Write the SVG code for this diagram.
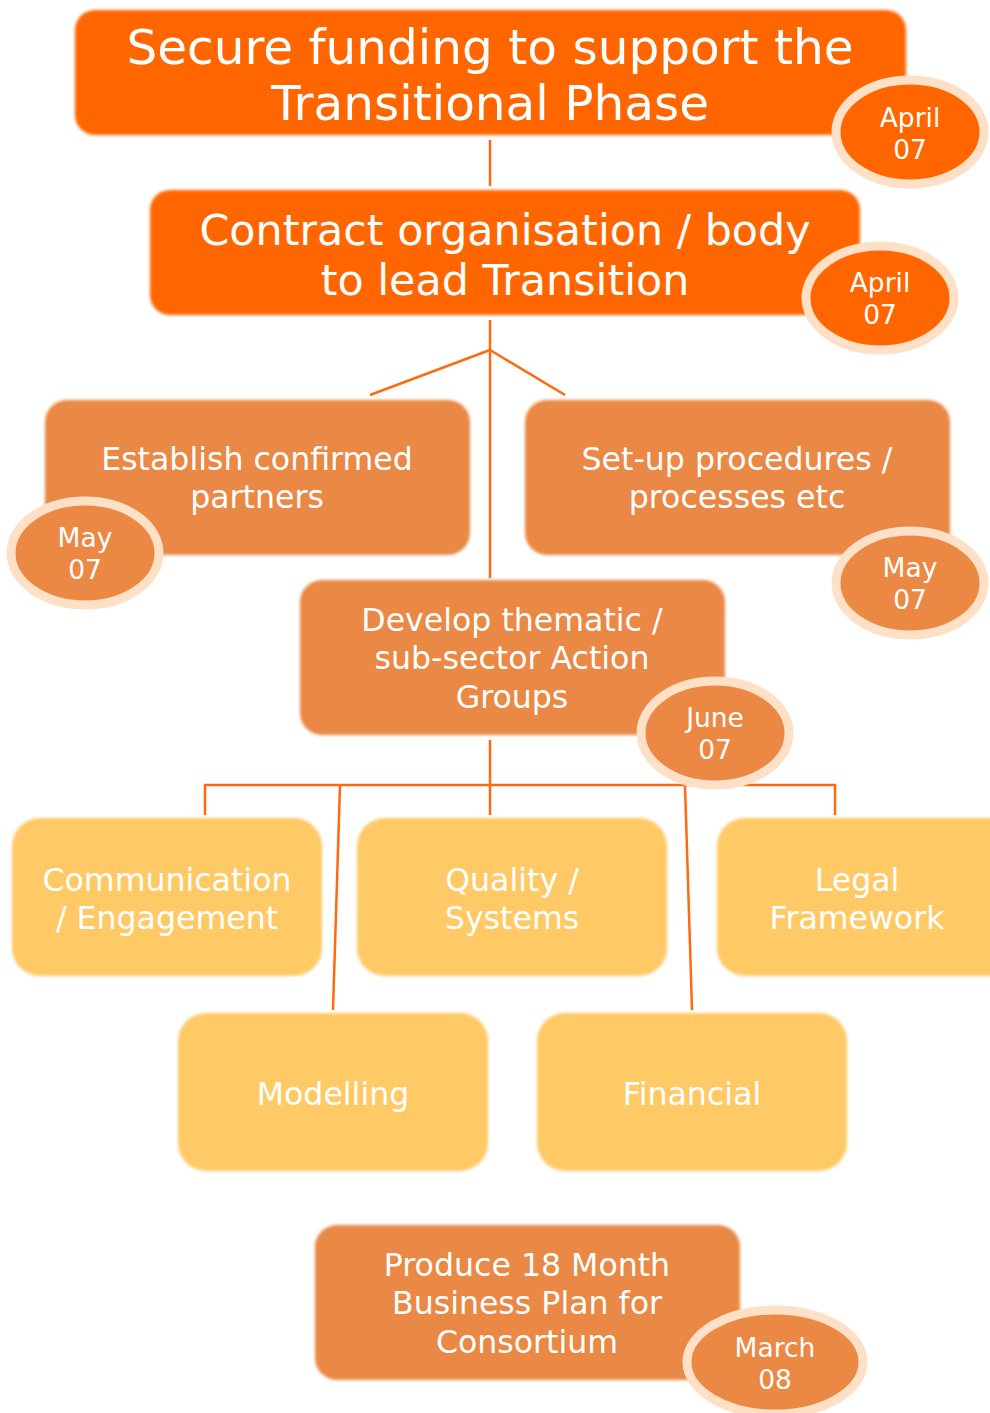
<svg xmlns="http://www.w3.org/2000/svg" width="990" height="1413" viewBox="0 0 990 1413">
<style>
text{font-family:"DejaVu Sans","Verdana",sans-serif;fill:#fff;text-anchor:middle}
.b1{fill:#FF6600}
.b2{fill:#EA8844}
.b3{fill:#FFC966}
.el{stroke:#FDE0C5;stroke-width:9}
.c{stroke:#FF6A10;stroke-width:2.5;fill:none}
.t44{font-size:48.5px}
.t40{font-size:42.8px}
.t30{font-size:31.6px}
.t24{font-size:26.5px}
</style>
<defs>
<filter id="soft" x="-5%" y="-5%" width="110%" height="110%"><feGaussianBlur stdDeviation="1.5"/></filter>
</defs>
<g id="connectors">
<line class="c" x1="490" y1="140" x2="490" y2="186"/>
<line class="c" x1="490" y1="320" x2="490" y2="578"/>
<line class="c" x1="490" y1="350" x2="370" y2="395"/>
<line class="c" x1="490" y1="350" x2="565" y2="395"/>
<line class="c" x1="490" y1="740" x2="490" y2="815"/>
<polyline class="c" points="205,815 205,785 835,785 835,815"/>
<line class="c" x1="340" y1="785" x2="333" y2="1010"/>
<line class="c" x1="685" y1="785" x2="692" y2="1010"/>
</g>
<g id="n1">
<rect class="b1" x="75" y="10" width="831" height="125" rx="20" filter="url(#soft)"/>
<text class="t44" x="490" y="64">Secure funding to support the</text>
<text class="t44" x="490" y="120">Transitional Phase</text>
</g>
<g id="d1">
<ellipse class="b1 el" cx="910" cy="132" rx="74" ry="52"/>
<text class="t24" x="910" y="127">April</text>
<text class="t24" x="910" y="159">07</text>
</g>
<g id="n2">
<rect class="b1" x="150" y="190" width="710" height="125" rx="20" filter="url(#soft)"/>
<text class="t40" x="505" y="245">Contract organisation / body</text>
<text class="t40" x="505" y="295">to lead Transition</text>
</g>
<g id="d2">
<ellipse class="b1 el" cx="880" cy="298" rx="74" ry="52"/>
<text class="t24" x="880" y="292">April</text>
<text class="t24" x="880" y="324">07</text>
</g>
<g id="n3">
<rect class="b2" x="45" y="400" width="425" height="155" rx="22" filter="url(#soft)"/>
<text class="t30" x="257" y="470">Establish confirmed</text>
<text class="t30" x="257" y="508">partners</text>
</g>
<g id="d3">
<ellipse class="b2 el" cx="85" cy="553" rx="74" ry="52"/>
<text class="t24" x="85" y="547">May</text>
<text class="t24" x="85" y="579">07</text>
</g>
<g id="n4">
<rect class="b2" x="525" y="400" width="425" height="155" rx="22" filter="url(#soft)"/>
<text class="t30" x="737" y="470">Set-up procedures /</text>
<text class="t30" x="737" y="508">processes etc</text>
</g>
<g id="d4">
<ellipse class="b2 el" cx="910" cy="583" rx="74" ry="52"/>
<text class="t24" x="910" y="577">May</text>
<text class="t24" x="910" y="609">07</text>
</g>
<g id="n5">
<rect class="b2" x="300" y="580" width="425" height="155" rx="22" filter="url(#soft)"/>
<text class="t30" x="512" y="631">Develop thematic /</text>
<text class="t30" x="512" y="669">sub-sector Action</text>
<text class="t30" x="512" y="708">Groups</text>
</g>
<g id="d5">
<ellipse class="b2 el" cx="715" cy="733" rx="74" ry="52"/>
<text class="t24" x="715" y="727">June</text>
<text class="t24" x="715" y="759">07</text>
</g>
<g id="n6">
<rect class="b3" x="12" y="818" width="310" height="158" rx="28" filter="url(#soft)"/>
<text class="t30" x="167" y="891">Communication</text>
<text class="t30" x="167" y="929">/ Engagement</text>
</g>
<g id="n7">
<rect class="b3" x="357" y="818" width="310" height="158" rx="28" filter="url(#soft)"/>
<text class="t30" x="512" y="891">Quality /</text>
<text class="t30" x="512" y="929">Systems</text>
</g>
<g id="n8">
<rect class="b3" x="717" y="818" width="310" height="158" rx="28" filter="url(#soft)"/>
<text class="t30" x="857" y="891">Legal</text>
<text class="t30" x="857" y="929">Framework</text>
</g>
<g id="n9">
<rect class="b3" x="178" y="1013" width="310" height="158" rx="28" filter="url(#soft)"/>
<text class="t30" x="333" y="1105">Modelling</text>
</g>
<g id="n10">
<rect class="b3" x="537" y="1013" width="310" height="158" rx="28" filter="url(#soft)"/>
<text class="t30" x="692" y="1105">Financial</text>
</g>
<g id="n11">
<rect class="b2" x="315" y="1225" width="425" height="155" rx="22" filter="url(#soft)"/>
<text class="t30" x="527" y="1276">Produce 18 Month</text>
<text class="t30" x="527" y="1314">Business Plan for</text>
<text class="t30" x="527" y="1353">Consortium</text>
</g>
<g id="d6">
<ellipse class="b2 el" cx="775" cy="1362" rx="88" ry="52"/>
<text class="t24" x="775" y="1357">March</text>
<text class="t24" x="775" y="1389">08</text>
</g>
</svg>
